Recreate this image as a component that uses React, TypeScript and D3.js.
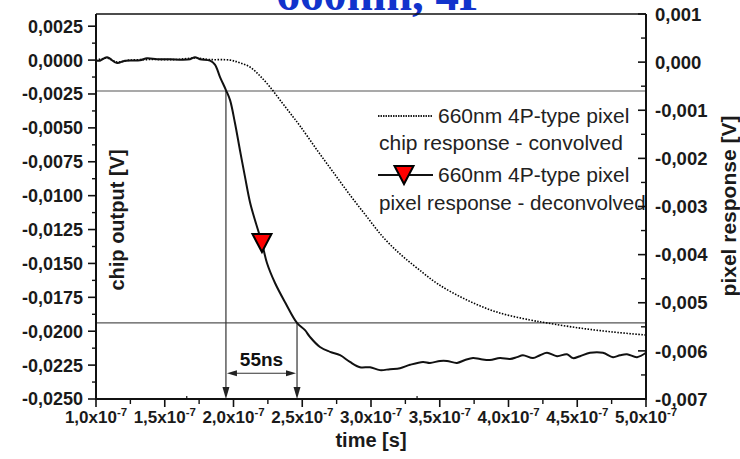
import React from 'react';
import * as d3 from 'd3';

const W = 740;
const H = 459;

// ---- axis ticks ----
const timeTicksNs = [100, 150, 200, 250, 300, 350, 400, 450, 500];
const timeTickLabels = ['1,0', '1,5', '2,0', '2,5', '3,0', '3,5', '4,0', '4,5', '5,0'];
const timeExponent = '-7';
const leftTicks = [0.0025, 0, -0.0025, -0.005, -0.0075, -0.01, -0.0125, -0.015, -0.0175, -0.02, -0.0225, -0.025];
const leftTickLabels = ['0,0025', '0,0000', '-0,0025', '-0,0050', '-0,0075', '-0,0100', '-0,0125', '-0,0150', '-0,0175', '-0,0200', '-0,0225', '-0,0250'];
const rightTicks = [0.001, 0, -0.001, -0.002, -0.003, -0.004, -0.005, -0.006, -0.007];
const rightTickLabels = ['0,001', '0,000', '-0,001', '-0,002', '-0,003', '-0,004', '-0,005', '-0,006', '-0,007'];
const innerMarksNs = [166, 333.5];

// ---- chip response - convolved (left axis, V) ----
const chipTime = [100, 108, 115.3, 124.7, 139.3, 157.5, 172, 182.9, 197.5, 204.7, 212, 219.3, 226.5, 233.8, 241.1, 248.4, 260.7, 272.4, 284.7, 297.1, 308.7, 321.1, 333.5, 348.7, 369.8, 391.6, 415.6, 428, 452, 476, 500];
const chipValue = [-0.00003, 0.00015, -0.00014, 0, 0.00004, 0.00004, 0.00015, 0.00004, 0, -0.00021, -0.00051, -0.00117, -0.00198, -0.00294, -0.0039, -0.00486, -0.00663, -0.00825, -0.00995, -0.01157, -0.01305, -0.0143, -0.01534, -0.01652, -0.0177, -0.01859, -0.01917, -0.01939, -0.01977, -0.02006, -0.02028];

// ---- pixel response - deconvolved (right axis, V) ----
const pixelTime = [100, 102.9, 108, 115.3, 121.1, 132, 137.1, 144.4, 153.8, 162.5, 168.4, 172, 175.6, 182.9, 186.5, 190.2, 194.5, 197.5, 201.1, 204.7, 208.4, 212, 215.6, 220.7, 224.4, 230.2, 237.5, 246.2, 252, 255.6, 262.9, 270.2, 277.5, 284.7, 292, 299.3, 306.5, 313.8, 321.1, 328.4, 337.8, 342.9, 350.2, 355.3, 362.5, 368.4, 374.2, 379.3, 386.5, 393.8, 401.1, 406.2, 410.5, 417.8, 422.9, 428, 435.3, 442.5, 446.9, 452, 459.3, 468.7, 476, 481.1, 486.2, 493.5, 500];
const pixelValue = [0.00003, 0.00003, 0.0001, -0.00002, 0.00003, 0.00004, 0.00008, 0.00006, 0.00006, 0.00005, 0.00006, 0.0001, 0.00006, 0.00003, -0.00005, -0.00031, -0.00058, -0.00079, -0.00127, -0.00183, -0.00239, -0.00291, -0.00328, -0.00376, -0.00418, -0.00459, -0.00499, -0.00542, -0.00557, -0.00571, -0.00592, -0.00602, -0.00609, -0.00623, -0.00634, -0.00634, -0.0064, -0.00638, -0.00636, -0.00629, -0.00623, -0.00625, -0.00621, -0.00621, -0.00625, -0.00619, -0.00615, -0.00617, -0.00619, -0.00615, -0.00617, -0.00613, -0.00609, -0.00615, -0.00609, -0.00604, -0.00611, -0.00607, -0.00615, -0.00611, -0.00604, -0.00604, -0.00613, -0.00609, -0.00607, -0.00613, -0.00604];
const pixelMarkerIndex = [23];

// ---- 10% / 90% annotation ----
const levelValues = [-0.0006, -0.00542]; // right axis
const crossTimes = [194.5, 246.2];
const spanLabel = '55ns';
const spanArrowValue = -0.0231; // left axis

const title = '660nm, 4P';
const legendLine1 = ['660nm 4P-type pixel', 'chip response - convolved'];
const legendLine2 = ['660nm 4P-type pixel', 'pixel response - deconvolved'];
const xTitle = 'time [s]';
const yLeftTitle = 'chip output [V]';
const yRightTitle = 'pixel response [V]';

const SANS = '"Liberation Sans", Arial, Helvetica, sans-serif';

export default function App() {
  const L = 96, R = 646, T = 14, B = 399;
  const x = d3.scaleLinear().domain([100, 500]).range([L, R]);
  const yL = d3.scaleLinear().domain([-0.025, 0.0034]).range([B, T]);
  const yR = d3.scaleLinear().domain([-0.007, 0.001]).range([B, T]);

  const chipLine = d3.line<number>().x((_, i) => x(chipTime[i])).y((d) => yL(d)).curve(d3.curveCatmullRom.alpha(0.5));
  const pixelLine = d3.line<number>().x((_, i) => x(pixelTime[i])).y((d) => yR(d)).curve(d3.curveCatmullRom.alpha(0.5));

  const leftMinor = d3.range(leftTicks.length - 1).map((i) => (leftTicks[i] + leftTicks[i + 1]) / 2);
  const rightMinor = d3.range(rightTicks.length - 1).map((i) => (rightTicks[i] + rightTicks[i + 1]) / 2);
  const xMinor = d3.range(timeTicksNs.length - 1).map((i) => (timeTicksNs[i] + timeTicksNs[i + 1]) / 2);

  const tri = (cx: number, cy: number) => `M${cx - 9.5},${cy - 9}L${cx + 9.5},${cy - 9}L${cx},${cy + 9}Z`;

  const vx1 = x(crossTimes[0]);
  const vx2 = x(crossTimes[1]);
  const ay = yL(spanArrowValue);

  return (
    <svg width={W} height={H} style={{ position: 'absolute', left: 0, top: 0, background: '#fff' }}>
      <rect x={0} y={0} width={W} height={H} fill="#fff" />
      {/* title (cut off at top) */}
      <text x={382} y={10} textAnchor="middle" fontFamily='"Liberation Serif", "Times New Roman", serif' fontWeight="bold" fontSize={47} fill="#1133cc">{title}</text>

      {/* reference lines */}
      {levelValues.map((v, i) => (
        <line key={'h' + i} x1={L} x2={R} y1={yR(v)} y2={yR(v)} stroke="#555" strokeWidth={1.2} />
      ))}
      {crossTimes.map((t, i) => (
        <g key={'v' + i}>
          <line x1={x(t)} x2={x(t)} y1={yR(levelValues[i])} y2={B - 10} stroke="#333" strokeWidth={1.2} />
          <path d={`M${x(t) - 3.5},${B - 12}L${x(t) + 3.5},${B - 12}L${x(t)},${B}Z`} fill="#222" />
        </g>
      ))}
      <line x1={vx1 + 8} x2={vx2 - 8} y1={ay} y2={ay} stroke="#333" strokeWidth={1.2} />
      <path d={`M${vx1 + 1},${ay}L${vx1 + 11},${ay - 3}L${vx1 + 11},${ay + 3}Z`} fill="#222" />
      <path d={`M${vx2 - 1},${ay}L${vx2 - 11},${ay - 3}L${vx2 - 11},${ay + 3}Z`} fill="#222" />
      <text x={(vx1 + vx2) / 2} y={ay - 7} textAnchor="middle" fontFamily={SANS} fontWeight="bold" fontSize={19} fill="#111">{spanLabel}</text>

      {/* curves */}
      <path d={chipLine(chipValue) || ''} fill="none" stroke="#000" strokeWidth={1.6} strokeDasharray="1.5 1.5" />
      <path d={pixelLine(pixelValue) || ''} fill="none" stroke="#111" strokeWidth={2} strokeLinejoin="round" />
      {pixelMarkerIndex.map((i) => (
        <path key={'m' + i} d={tri(x(pixelTime[i]), yR(pixelValue[i]))} fill="#ff0000" stroke="#000" strokeWidth={2} strokeLinejoin="miter" />
      ))}

      {/* legend */}
      <line x1={378} x2={433} y1={116} y2={116} stroke="#222" strokeWidth={1.8} strokeDasharray="1.5 1" />
      <text x={438} y={123} fontFamily={SANS} fontSize={21} fill="#222">{legendLine1[0]}</text>
      <text x={379} y={150} fontFamily={SANS} fontSize={21} fill="#222">{legendLine1[1]}</text>
      <line x1={378} x2={433} y1={175} y2={175} stroke="#111" strokeWidth={2} />
      <path d={tri(404, 175)} fill="#ff0000" stroke="#000" strokeWidth={2} />
      <text x={438} y={182} fontFamily={SANS} fontSize={21} fill="#222">{legendLine2[0]}</text>
      <text x={379} y={210} fontFamily={SANS} fontSize={20.6} fill="#222">{legendLine2[1]}</text>

      {/* frame */}
      <line x1={L} x2={R} y1={T} y2={T} stroke="#111" strokeWidth={1.6} />
      <line x1={L} x2={L} y1={T} y2={B + 1} stroke="#111" strokeWidth={2} />
      <line x1={R} x2={R} y1={T} y2={B + 1} stroke="#111" strokeWidth={2} />
      <line x1={L - 1} x2={R + 1} y1={B} y2={B} stroke="#111" strokeWidth={2} />

      {/* left axis */}
      {leftTicks.map((v, i) => (
        <g key={'lt' + i}>
          <line x1={L - 8} x2={L} y1={yL(v)} y2={yL(v)} stroke="#111" strokeWidth={1.6} />
          <text x={83} y={yL(v)} dy="0.36em" textAnchor="end" fontFamily={SANS} fontWeight="bold" fontSize={18} fill="#1a1a1a">{leftTickLabels[i]}</text>
        </g>
      ))}
      {leftMinor.map((v, i) => (
        <line key={'lm' + i} x1={L - 4} x2={L} y1={yL(v)} y2={yL(v)} stroke="#111" strokeWidth={1.4} />
      ))}

      {/* right axis */}
      {rightTicks.map((v, i) => (
        <g key={'rt' + i}>
          <line x1={R - 8} x2={R} y1={yR(v)} y2={yR(v)} stroke="#111" strokeWidth={1.6} />
          <text x={655} y={yR(v)} dy="0.36em" textAnchor="start" fontFamily={SANS} fontWeight="bold" fontSize={18.5} fill="#1a1a1a">{rightTickLabels[i]}</text>
        </g>
      ))}
      {rightMinor.map((v, i) => (
        <line key={'rm' + i} x1={R - 5} x2={R} y1={yR(v)} y2={yR(v)} stroke="#111" strokeWidth={1.4} />
      ))}

      {/* bottom axis */}
      {timeTicksNs.map((t, i) => (
        <g key={'bt' + i}>
          <line x1={x(t)} x2={x(t)} y1={B} y2={B + 8} stroke="#111" strokeWidth={1.6} />
          <text x={x(t)} y={423} textAnchor="middle" fontFamily={SANS} fontWeight="bold" fontSize={17} fill="#1a1a1a">
            {timeTickLabels[i]}x10<tspan dy={-7} fontSize={11.5}>{timeExponent}</tspan>
          </text>
        </g>
      ))}
      {xMinor.map((t, i) => (
        <line key={'bm' + i} x1={x(t)} x2={x(t)} y1={B} y2={B + 5} stroke="#111" strokeWidth={1.4} />
      ))}
      {innerMarksNs.map((t, i) => (
        <line key={'im' + i} x1={x(t)} x2={x(t)} y1={B - 3} y2={B} stroke="#111" strokeWidth={1.2} />
      ))}

      {/* axis titles */}
      <text x={371} y={447} textAnchor="middle" fontFamily={SANS} fontWeight="bold" fontSize={20} fill="#1a1a1a">{xTitle}</text>
      <text transform={`translate(124,220) rotate(-90)`} textAnchor="middle" fontFamily={SANS} fontWeight="bold" fontSize={20} fill="#1a1a1a">{yLeftTitle}</text>
      <text transform={`translate(736,206) rotate(-90)`} textAnchor="middle" fontFamily={SANS} fontWeight="bold" fontSize={21} fill="#1a1a1a">{yRightTitle}</text>
    </svg>
  );
}
